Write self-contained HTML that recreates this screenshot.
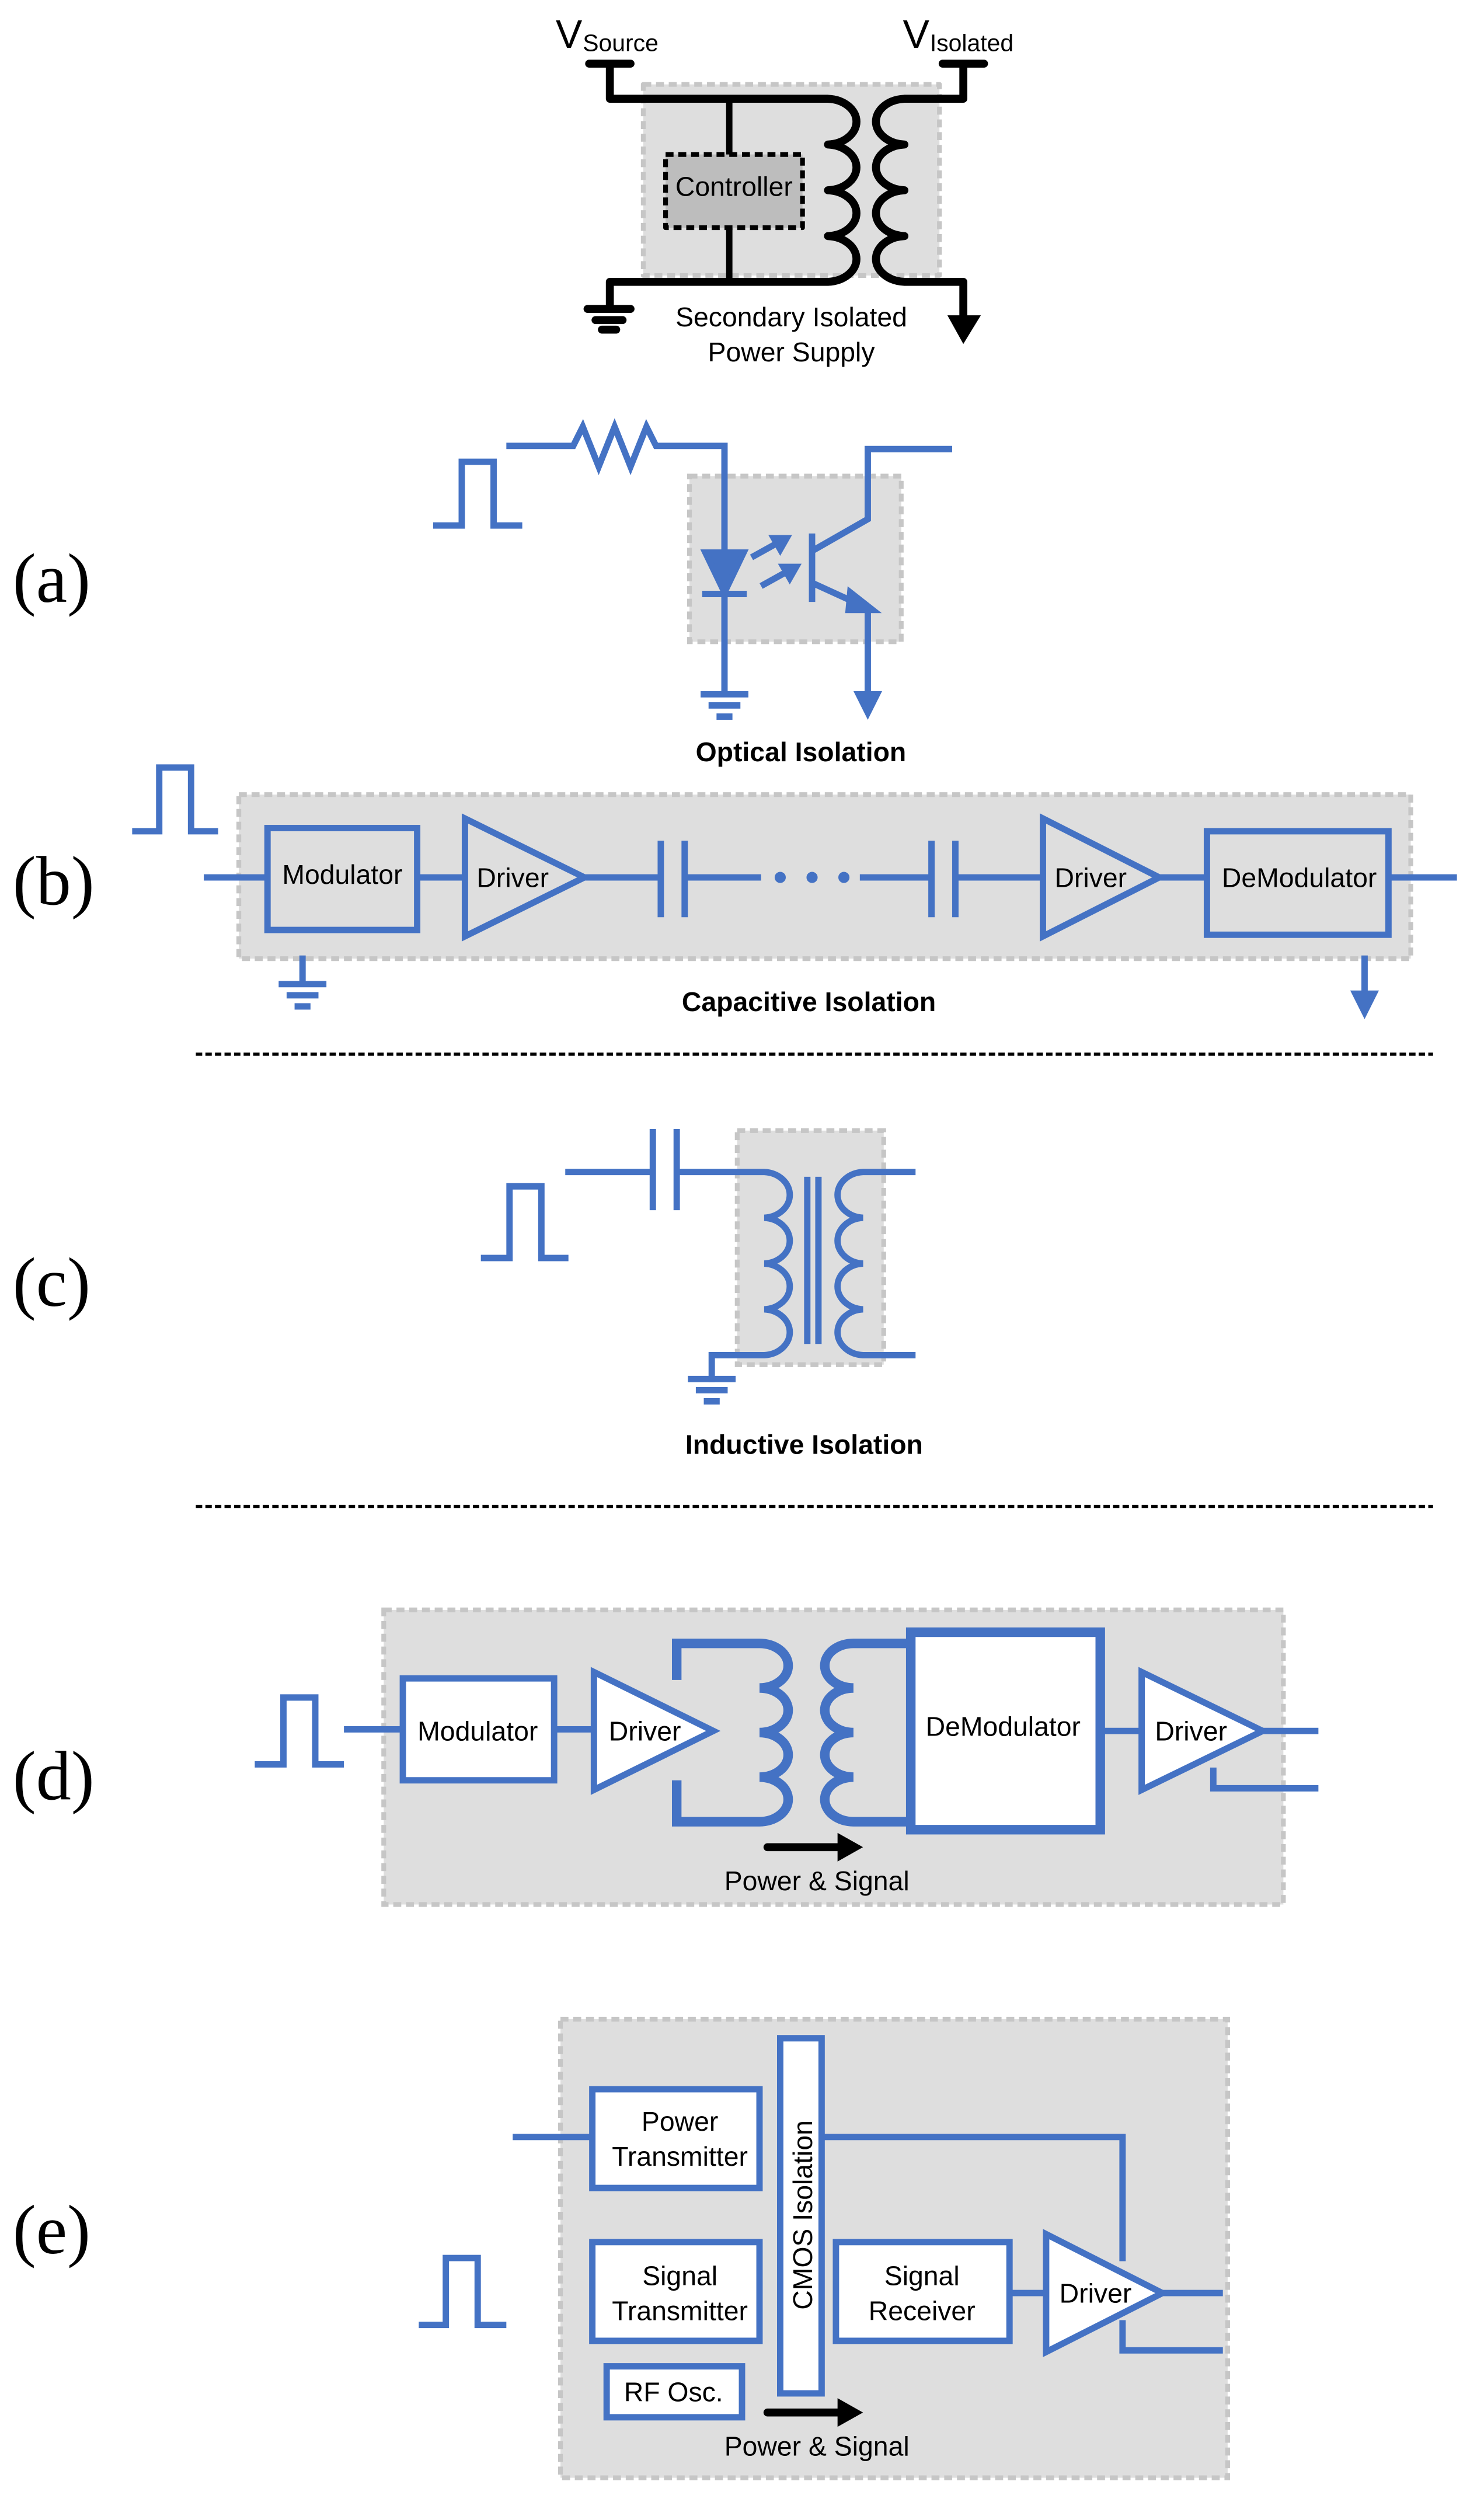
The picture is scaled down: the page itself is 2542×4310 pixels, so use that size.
<!DOCTYPE html>
<html><head><meta charset="utf-8"><style>
html,body{margin:0;padding:0;background:#fff;width:2542px;height:4310px;overflow:hidden}
svg{display:block}
text{font-family:"Liberation Sans",sans-serif;}
</style></head><body>
<svg width="2542" height="4310" viewBox="0 0 932 1580" preserveAspectRatio="none" xmlns="http://www.w3.org/2000/svg">
<g fill="none" stroke-linejoin="round">
<!-- TOP power supply -->
<rect x="404" y="53" width="186" height="120" fill="#dedede" stroke="#c6c6c6" stroke-width="3" stroke-dasharray="5,3"/>
<rect x="418" y="97" width="86" height="46" fill="#bdbdbd" stroke="#000" stroke-width="3" stroke-dasharray="5,3"/>
<g stroke="#000" stroke-width="5" stroke-linecap="round">
<path d="M370 40 H396 M383 40 V62 H520 A19 14.4 0 0 1 520 90.75 A19 14.4 0 0 1 520 119.5 A19 14.4 0 0 1 520 148.25 A19 14.4 0 0 1 520 177 H383 V194"/>
<path d="M592 40 H618 M605 40 V62 H568 A19 14.4 0 0 0 568 90.75 A19 14.4 0 0 0 568 119.5 A19 14.4 0 0 0 568 148.25 A19 14.4 0 0 0 568 177 H605 V200"/>
<path d="M369 194 H396 M374 201 H391 M378 207 H387"/>
</g>
<path d="M458 62 V97 M458 143 V177" stroke="#000" stroke-width="4"/>
<path d="M595 198 L616 198 L605 216 Z" fill="#000"/>
</g>
<text x="349" y="30" font-size="25">V</text><text x="366" y="32" font-size="15">Source</text>
<text x="567" y="30" font-size="25">V</text><text x="584" y="32" font-size="15">Isolated</text>
<text x="461" y="123" font-size="17" text-anchor="middle">Controller</text>
<text x="497" y="205" font-size="17" text-anchor="middle">Secondary Isolated</text>
<text x="497" y="227" font-size="17" text-anchor="middle">Power Supply</text>

<!-- labels -->
<g font-size="44">
<text x="8" y="378" style="font-family:'Liberation Serif',serif">(a)</text>
<text x="8" y="568" style="font-family:'Liberation Serif',serif">(b)</text>
<text x="8" y="820" style="font-family:'Liberation Serif',serif">(c)</text>
<text x="8" y="1130" style="font-family:'Liberation Serif',serif">(d)</text>
<text x="8" y="1415" style="font-family:'Liberation Serif',serif">(e)</text>
</g>

<g fill="none" stroke="#4472c4" stroke-width="4" stroke-linejoin="miter">
<!-- (a) -->
<rect x="433" y="299" width="133" height="104" fill="#dedede" stroke="#c6c6c6" stroke-width="3" stroke-dasharray="5,3"/>
<path d="M272 330 H290 V290 H310 V330 H328"/>
<path d="M318 280 H360 L366 268 L376 293 L386 268 L396 293 L406 268 L412 280 H455 V435"/>
<path d="M443 347 H467 L455 372 Z" fill="#4472c4"/>
<path d="M441 373 H469"/>
<path d="M440 436 H470 M445 443 H465 M450 450 H460"/>
<path d="M472 350 L490 340 M478 368 L496 358"/>
<path d="M486 338 L494 338 L490 345 Z M492 356 L500 356 L496 363 Z" fill="#4472c4"/>
<path d="M510 335 V378 M510 346 L545 326 V282 H598 M510 366 L545 382 V435"/>
<path d="M534 372 L548 383 L533 383 Z" fill="#4472c4"/>
<path d="M536 434 L554 434 L545 452 Z" fill="#4472c4" stroke="none"/>
<!-- (b) -->
<rect x="150" y="499" width="736" height="103" fill="#dedede" stroke="#c6c6c6" stroke-width="3" stroke-dasharray="5,3"/>
<path d="M83 522 H100 V482 H120 V522 H137"/>
<path d="M128 551 H168 M262 551 H292 M367 551 H415 M430 551 H478 M540 551 H585 M600 551 H655 M728 551 H758 M872 551 H915"/>
<rect x="168" y="520" width="94" height="64"/>
<path d="M292 514 L292 588 L367 551 Z"/>
<path d="M415 528 V576 M430 528 V576 M585 528 V576 M600 528 V576"/>
<circle cx="490" cy="551" r="1.5" fill="#4472c4"/><circle cx="510" cy="551" r="1.5" fill="#4472c4"/><circle cx="530" cy="551" r="1.5" fill="#4472c4"/>
<path d="M655 514 L655 588 L728 551 Z"/>
<rect x="758" y="522" width="114" height="65"/>
<path d="M190 600 V618 M175 618 H205 M180 625 H200 M185 632 H195"/>
<path d="M857 600 V625"/>
<path d="M848 622 L866 622 L857 640 Z" fill="#4472c4" stroke="none"/>
<!-- (c) -->
<rect x="463" y="710" width="92" height="147" fill="#dedede" stroke="#c6c6c6" stroke-width="3" stroke-dasharray="5,3"/>
<path d="M302 790 H320 V745 H340 V790 H357"/>
<path d="M355 736 H410 M410 709 V760 M425 709 V760 M425 736 H480 A17 14.4 0 0 1 480 764.75 A17 14.4 0 0 1 480 793.5 A17 14.4 0 0 1 480 822.25 A17 14.4 0 0 1 480 851 H447 V868"/>
<path d="M507 739 V844 M514 739 V844"/>
<path d="M575 736 H542 A17 14.4 0 0 0 542 764.75 A17 14.4 0 0 0 542 793.5 A17 14.4 0 0 0 542 822.25 A17 14.4 0 0 0 542 851 H575"/>
<path d="M432 866 H462 M437 873 H457 M442 880 H452"/>
<!-- (d) -->
<rect x="241" y="1011" width="565" height="185" fill="#dedede" stroke="#c6c6c6" stroke-width="3" stroke-dasharray="5,3"/>
<path d="M160 1108 H178 V1066 H198 V1108 H216"/>
<path d="M216 1086 H253 M348 1086 H373 M691 1087 H717 M793 1087 H828 M762 1110 V1123 H828"/>
<rect x="253" y="1054" width="95" height="64" fill="#fff"/>
<path d="M373 1050 L373 1124 L448 1087 Z" fill="#fff"/>
<path d="M425 1055 V1032 H477 A18 14 0 0 1 477 1060 A18 14 0 0 1 477 1088 A18 14 0 0 1 477 1116 A18 14 0 0 1 477 1144 H425 V1118" stroke-width="6"/>
<path d="M572 1032 H536 A18 14 0 0 0 536 1060 A18 14 0 0 0 536 1088 A18 14 0 0 0 536 1116 A18 14 0 0 0 536 1144 H572" stroke-width="6"/>
<rect x="572" y="1025" width="119" height="124" fill="#fff" stroke-width="6"/>
<path d="M717 1050 L717 1124 L793 1087 Z" fill="#fff"/>
<!-- (e) -->
<rect x="352" y="1268" width="419" height="288" fill="#dedede" stroke="#c6c6c6" stroke-width="3" stroke-dasharray="5,3"/>
<path d="M263 1460 H280 V1418 H300 V1460 H318"/>
<path d="M322 1342 H372 M516 1342 H705 V1420 M634 1440 H657 M730 1440 H768 M705 1457 V1476 H768"/>
<rect x="372" y="1312" width="105" height="62" fill="#fff"/>
<rect x="490" y="1280" width="26" height="223" fill="#fff"/>
<rect x="372" y="1408" width="105" height="62" fill="#fff"/>
<rect x="381" y="1486" width="85" height="32" fill="#fff"/>
<rect x="525" y="1408" width="109" height="62" fill="#fff"/>
<path d="M657 1403 L657 1477 L730 1440 Z" fill="#fff"/>
</g>
<!-- black arrows -->
<path d="M482 1160 H528" stroke="#000" stroke-width="5" stroke-linecap="round"/>
<path d="M526 1151 L542 1160 L526 1169 Z" fill="#000"/>
<path d="M482 1515 H528" stroke="#000" stroke-width="5" stroke-linecap="round"/>
<path d="M526 1506 L542 1515 L526 1524 Z" fill="#000"/>
<!-- dashed separators -->
<path d="M123 662 H900 M123 946 H900" stroke="#000" stroke-width="2" stroke-dasharray="4,2"/>

<!-- text -->
<g font-size="17">
<text x="503" y="478" text-anchor="middle" font-weight="bold">Optical Isolation</text>
<text x="215" y="555" text-anchor="middle">Modulator</text>
<text x="322" y="557" text-anchor="middle">Driver</text>
<text x="685" y="557" text-anchor="middle">Driver</text>
<text x="816" y="557" text-anchor="middle">DeModulator</text>
<text x="508" y="635" text-anchor="middle" font-weight="bold">Capacitive Isolation</text>
<text x="505" y="913" text-anchor="middle" font-weight="bold">Inductive Isolation</text>
<text x="300" y="1093" text-anchor="middle">Modulator</text>
<text x="405" y="1093" text-anchor="middle">Driver</text>
<text x="630" y="1090" text-anchor="middle">DeModulator</text>
<text x="748" y="1093" text-anchor="middle">Driver</text>
<text x="513" y="1187" text-anchor="middle">Power &amp; Signal</text>
<text x="427" y="1338" text-anchor="middle">Power</text>
<text x="427" y="1360" text-anchor="middle">Transmitter</text>
<text x="427" y="1435" text-anchor="middle">Signal</text>
<text x="427" y="1457" text-anchor="middle">Transmitter</text>
<text x="423" y="1508" text-anchor="middle">RF Osc.</text>
<text x="579" y="1435" text-anchor="middle">Signal</text>
<text x="579" y="1457" text-anchor="middle">Receiver</text>
<text x="688" y="1446" text-anchor="middle">Driver</text>
<text x="513" y="1542" text-anchor="middle">Power &amp; Signal</text>
<text transform="translate(510 1391) rotate(-90)" text-anchor="middle">CMOS Isolation</text>
</g>
</svg>
</body></html>
